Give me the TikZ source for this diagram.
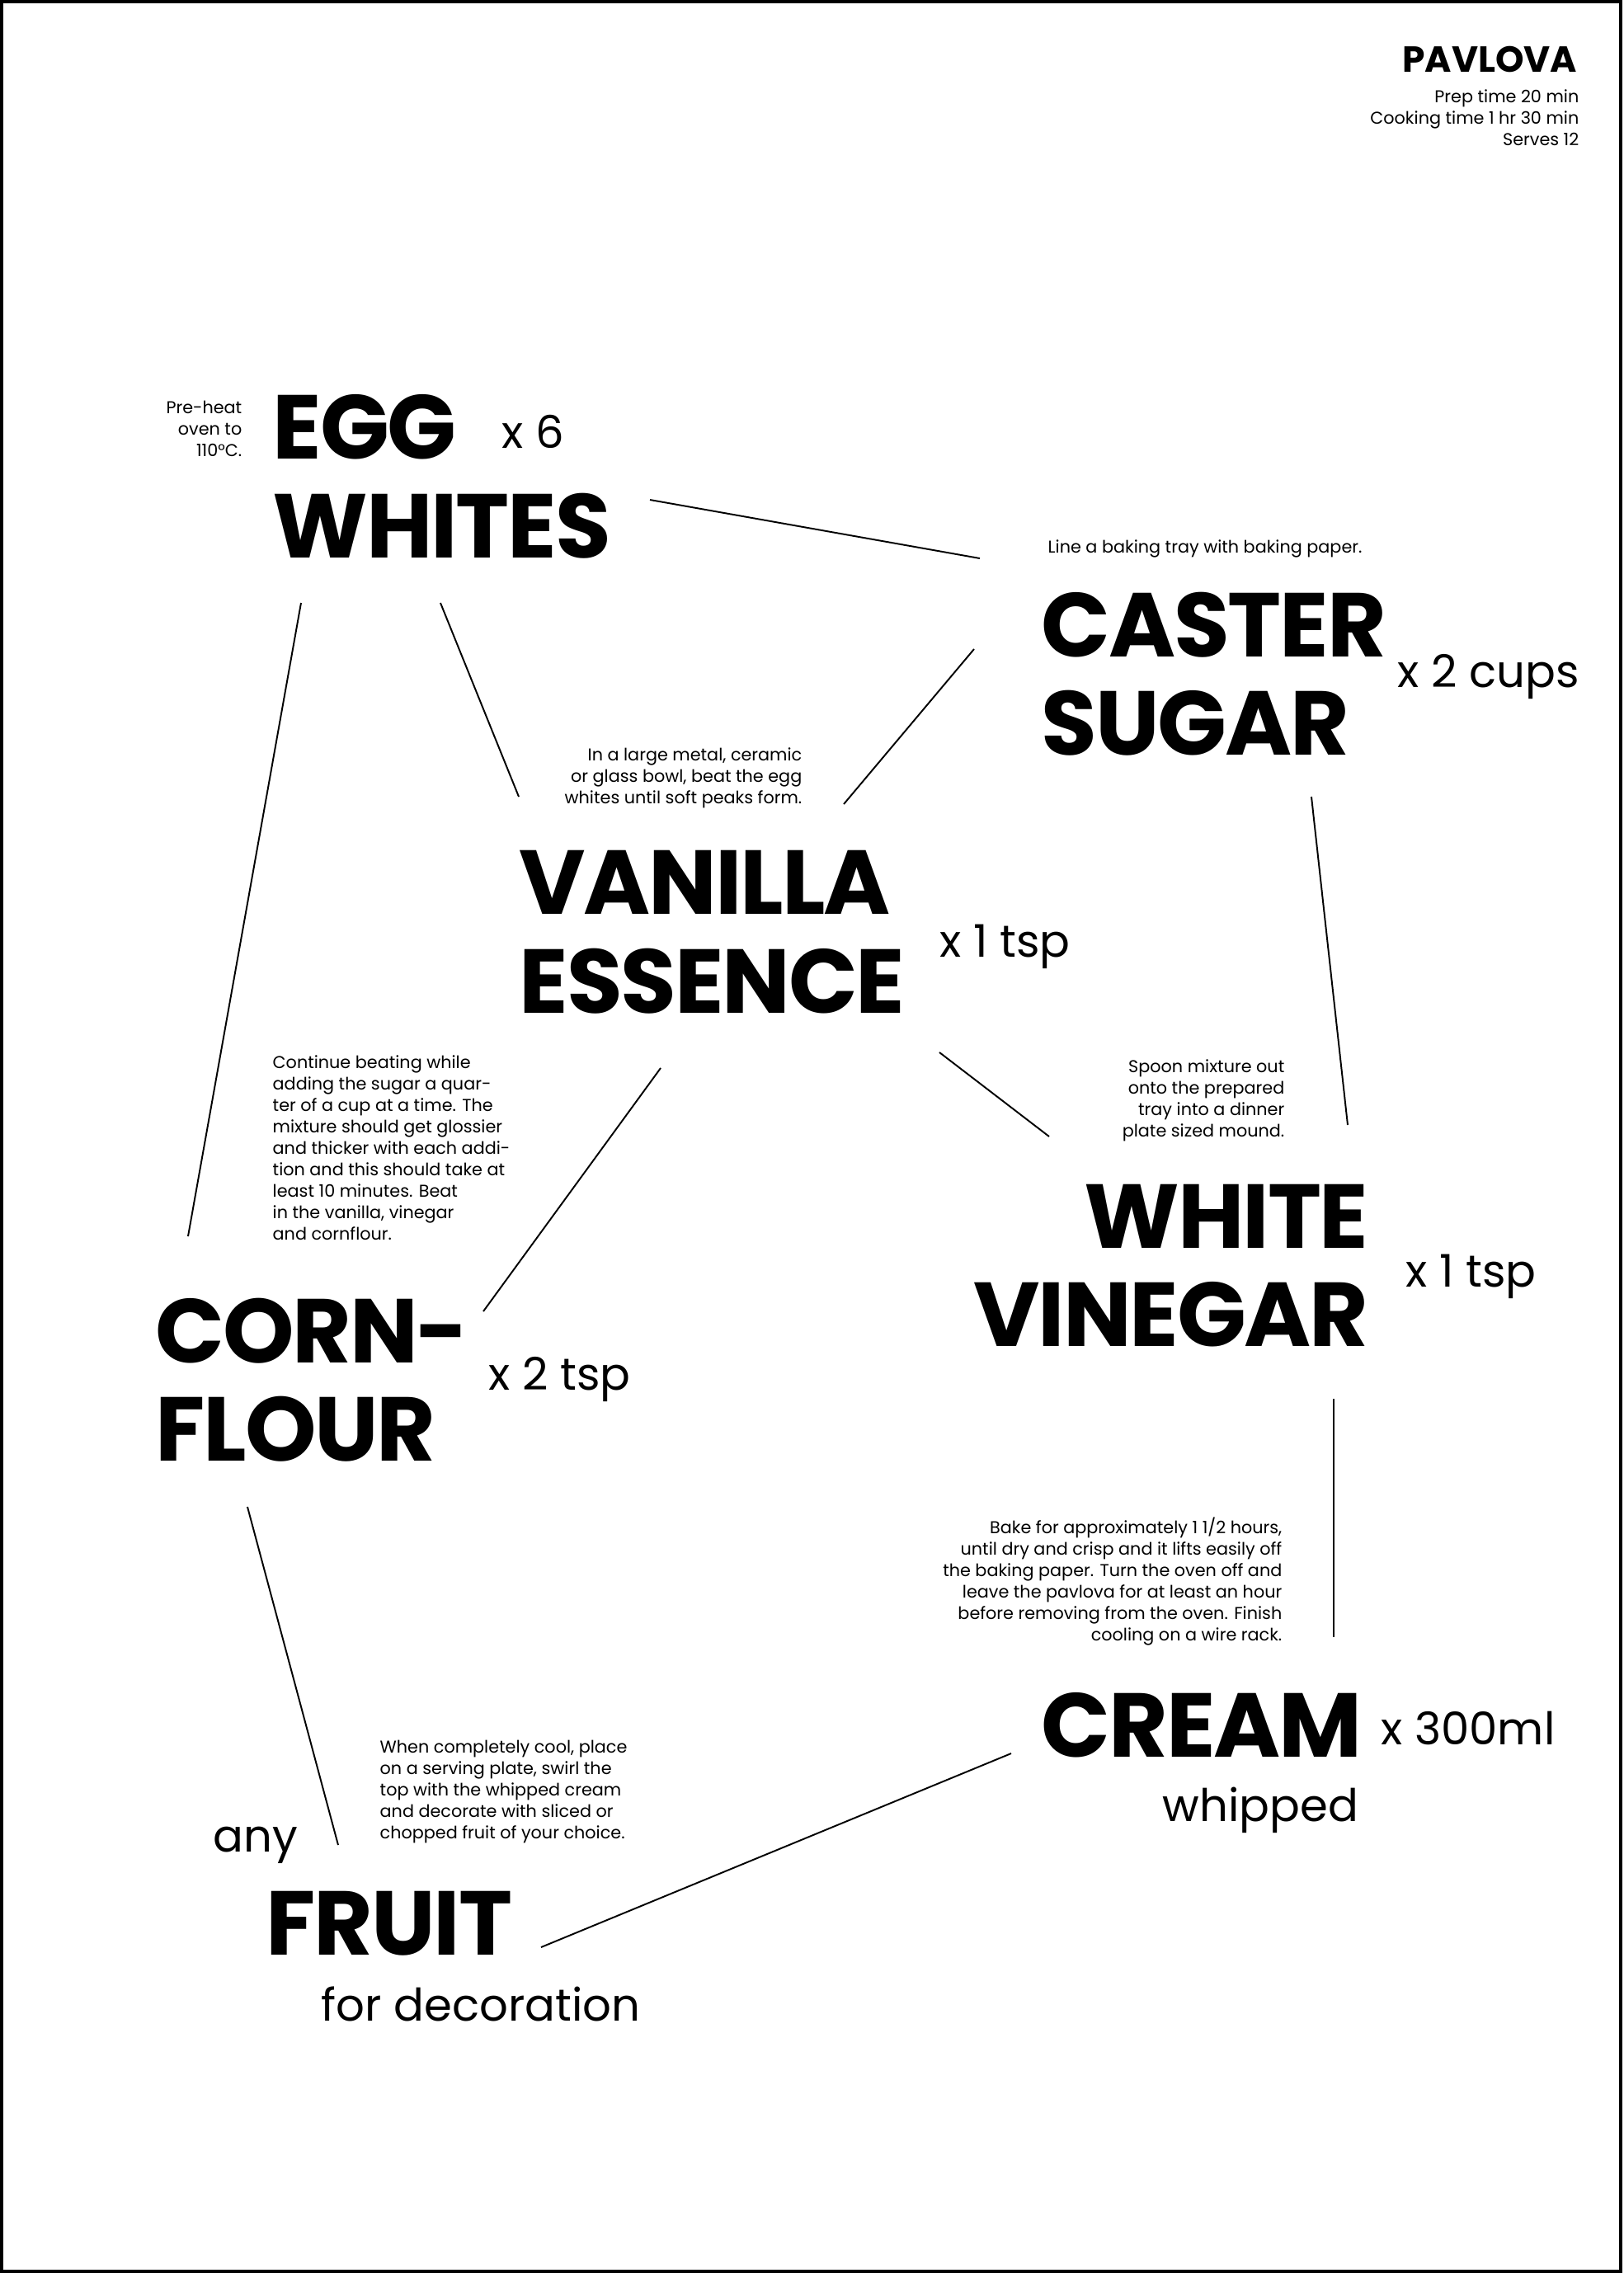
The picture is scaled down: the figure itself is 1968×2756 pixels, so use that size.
\documentclass[tikz,border=0pt]{standalone}
\usepackage{fontspec}
\setmainfont{Poppins}
\usetikzlibrary{positioning}

\tikzset{
  ingredient/.style={inner sep=0pt, font=\bfseries\fontsize{31.3}{34}\selectfont\addfontfeature{LetterSpace=-2}},
  amount/.style={inner sep=0pt, font=\fontsize{15.5}{19}\selectfont},
  note/.style={inner sep=0pt, font=\fontsize{5.9}{7.4}\selectfont},
  link/.style={line width=0.55pt},
}

\begin{document}
\begin{tikzpicture}[x=0.01cm, y=-0.01cm]
\useasboundingbox (0,0) rectangle (1968,2756);
\draw[line width=0.9pt] (2,2) rectangle (1965,2754);

% title
\node[inner sep=0pt, anchor=north east, font=\bfseries\fontsize{12.5}{14}\selectfont] (title) at (1913,55) {PAVLOVA};
\node[note, align=right, anchor=north east] (times) at (1915,108) {Prep time 20 min\\Cooking time 1 hr 30 min\\Serves 12};

% ingredients
\node[ingredient, align=left, anchor=north west] (egg) at (330,478) {EGG\\WHITES};
\node[ingredient, align=left, anchor=north west] (caster) at (1262,717) {CASTER\\SUGAR};
\node[ingredient, align=left, anchor=north west] (vanilla) at (629,1031) {VANILLA\\ESSENCE};
\node[ingredient, align=right, anchor=north east] (vinegar) at (1660,1435) {WHITE\\VINEGAR};
\node[ingredient, align=left, anchor=north west] (corn) at (188,1573) {CORN-\\FLOUR};
\node[ingredient, anchor=north west] (cream) at (1262,2052) {CREAM};
\node[ingredient, anchor=north west] (fruit) at (322,2292) {FRUIT};

% amounts
\node[amount, anchor=base west] (eggqty) at (608,543) {x 6};
\node[amount, anchor=base west] (casterqty) at (1694,833) {x 2 cups};
\node[amount, anchor=base west] (vanillaqty) at (1139,1160) {x 1 tsp};
\node[amount, anchor=base west] (vinegarqty) at (1704,1560) {x 1 tsp};
\node[amount, anchor=base west] (cornqty) at (592,1685) {x 2 tsp};
\node[amount, anchor=base west] (creamqty) at (1674,2115) {x 300ml};
\node[amount, anchor=base east] (whipped) at (1648,2208) {whipped};
\node[amount, anchor=base west] (any) at (258,2245) {any};
\node[amount, anchor=base west] (decoration) at (389,2450) {for decoration};

% method
\node[note, align=right, anchor=north east] (preheat) at (294,485) {Pre-heat\\oven to\\110°C.};
\node[note, anchor=base west] (tray) at (1270,670) {Line a baking tray with baking paper.};
\node[note, align=right, anchor=north east] (beat) at (973,906) {In a large metal, ceramic\\or glass bowl, beat the egg\\whites until soft peaks form.};
\node[note, align=left, anchor=north west] (continue) at (330,1279) {Continue beating while\\adding the sugar a quar-\\ter of a cup at a time. The\\mixture should get glossier\\and thicker with each addi-\\tion and this should take at\\least 10 minutes. Beat\\in the vanilla, vinegar\\and cornflour.};
\node[note, align=right, anchor=north east] (spoon) at (1558,1284) {Spoon mixture out\\onto the prepared\\tray into a dinner\\plate sized mound.};
\node[note, align=right, anchor=north east] (bake) at (1555,1839) {Bake for approximately 1 1/2 hours,\\until dry and crisp and it lifts easily off\\the baking paper. Turn the oven off and\\leave the pavlova for at least an hour\\before removing from the oven. Finish\\cooling on a wire rack.};
\node[note, align=left, anchor=north west] (serve) at (460,2109) {When completely cool, place\\on a serving plate, swirl the\\top with the whipped cream\\and decorate with sliced or\\chopped fruit of your choice.};

% line ends
\coordinate (egg1) at (788,606);
\coordinate (caster1) at (1188,677);
\coordinate (egg2) at (534,731);
\coordinate (vanilla2) at (629,966);
\coordinate (egg3) at (365,731);
\coordinate (corn3) at (228,1499);
\coordinate (caster4) at (1181,787);
\coordinate (vanilla4) at (1023,975);
\coordinate (caster5) at (1590,966);
\coordinate (vinegar5) at (1634,1364);
\coordinate (vanilla6) at (1139,1276);
\coordinate (vinegar6) at (1272,1378);
\coordinate (vanilla7) at (801,1295);
\coordinate (corn7) at (586,1590);
\coordinate (vinegar8) at (1617,1696);
\coordinate (cream8) at (1617,1985);
\coordinate (corn9) at (300,1827);
\coordinate (fruit9) at (410,2237);
\coordinate (cream10) at (1226,2126);
\coordinate (fruit10) at (656,2361);

\path[link]
  (egg1) edge (caster1)
  (egg2) edge (vanilla2)
  (egg3) edge (corn3)
  (caster4) edge (vanilla4)
  (caster5) edge (vinegar5)
  (vanilla6) edge (vinegar6)
  (vanilla7) edge (corn7)
  (vinegar8) edge (cream8)
  (corn9) edge (fruit9)
  (cream10) edge (fruit10);
\end{tikzpicture}
\end{document}
